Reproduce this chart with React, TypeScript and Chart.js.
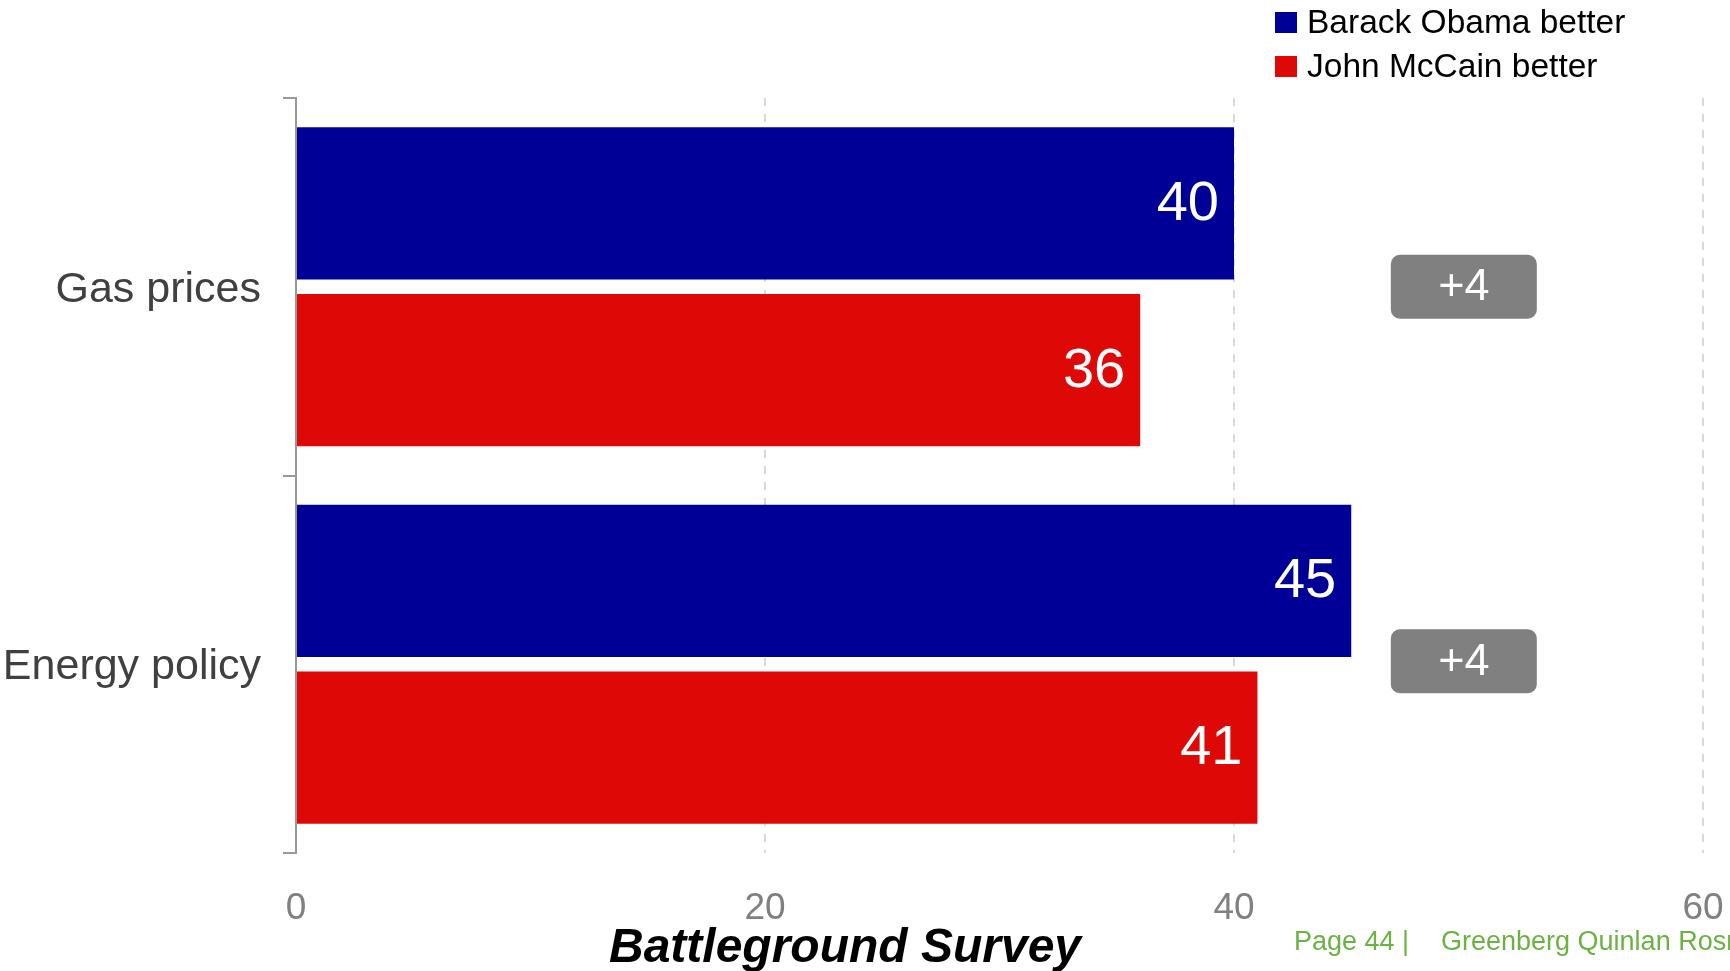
import React, { useEffect, useRef } from "react";
import { Chart, registerables } from "chart.js";

Chart.register(...registerables);

const categories = ["Gas prices", "Energy policy"];
const obamaValues = [40, 45];
const mccainValues = [36, 41];
const seriesNames = ["Barack Obama better", "John McCain better"];
const seriesColors = ["#000096", "#DE0806"];
const xTicks = [0, 20, 40, 60];
const badgeCenterValue = 49.8;

const FONT = "'Liberation Sans', Arial, Helvetica, sans-serif";

const overlayPlugin = {
  id: "overlay",
  afterDatasetsDraw(chart: any) {
    const ctx = chart.ctx;
    ctx.save();
    ctx.font = `56px ${FONT}`;
    ctx.fillStyle = "#ffffff";
    ctx.textAlign = "right";
    ctx.textBaseline = "middle";
    chart.data.datasets.forEach((ds: any, di: number) => {
      const meta = chart.getDatasetMeta(di);
      meta.data.forEach((bar: any, i: number) => {
        ctx.fillText(String(ds.data[i]), bar.x - 15, bar.y + 1);
      });
    });
    ctx.restore();
  },
  afterDraw(chart: any) {
    const ctx = chart.ctx;
    const xs = chart.scales.x;
    const ys = chart.scales.y;
    ctx.save();
    // difference badges
    categories.forEach((_, i) => {
      const diff = obamaValues[i] - mccainValues[i];
      const cx = xs.getPixelForValue(badgeCenterValue);
      const cy = ys.getPixelForValue(i) - 3 * i;
      const w = 146;
      const h = 64;
      ctx.fillStyle = "#808080";
      ctx.beginPath();
      (ctx as any).roundRect(cx - w / 2, cy - h / 2, w, h, 9);
      ctx.fill();
      ctx.fillStyle = "#ffffff";
      ctx.font = `45px ${FONT}`;
      ctx.textAlign = "center";
      ctx.textBaseline = "middle";
      ctx.fillText((diff > 0 ? "+" : "") + diff, cx, cy + 1);
    });
    // legend
    seriesNames.forEach((name, i) => {
      const cy = 22.5 + i * 44;
      ctx.fillStyle = seriesColors[i];
      ctx.fillRect(1275, cy - 10.5, 22, 21);
      ctx.fillStyle = "#000000";
      ctx.font = `33.5px ${FONT}`;
      ctx.textAlign = "left";
      ctx.textBaseline = "middle";
      ctx.fillText(name, 1307, cy + 1);
    });
    // footer
    ctx.fillStyle = "#000000";
    ctx.font = `italic bold 48px ${FONT}`;
    ctx.textAlign = "center";
    ctx.textBaseline = "alphabetic";
    ctx.fillText("Battleground Survey", 845, 962);
    ctx.fillStyle = "#6AB342";
    ctx.font = `27px ${FONT}`;
    ctx.textAlign = "left";
    ctx.fillText("Page 44 |", 1294, 950);
    ctx.fillText("Greenberg Quinlan Rosner", 1441, 950);
    ctx.restore();
  },
};

export default function App() {
  const canvasRef = useRef<HTMLCanvasElement | null>(null);

  useEffect(() => {
    if (!canvasRef.current) return;
    const chart = new Chart(canvasRef.current, {
      type: "bar",
      data: {
        labels: categories,
        datasets: [
          {
            label: seriesNames[0],
            data: obamaValues,
            backgroundColor: seriesColors[0],
            categoryPercentage: 0.883,
            barPercentage: 0.913,
          },
          {
            label: seriesNames[1],
            data: mccainValues,
            backgroundColor: seriesColors[1],
            categoryPercentage: 0.883,
            barPercentage: 0.913,
          },
        ],
      },
      options: {
        indexAxis: "y",
        responsive: false,
        animation: false,
        layout: { padding: { top: 98, right: 27, left: 0, bottom: 0 } },
        plugins: {
          legend: { display: false },
          tooltip: { enabled: false },
        },
        scales: {
          x: {
            type: "linear",
            min: xTicks[0],
            max: xTicks[xTicks.length - 1],
            afterBuildTicks: (scale: any) => {
              scale.ticks = xTicks.map((v) => ({ value: v }));
            },
            afterFit: (scale: any) => {
              scale.height = 118;
              scale.paddingLeft = 0;
              scale.paddingRight = 0;
            },
            grid: {
              color: "#d9d9d9",
              lineWidth: 2,
              drawTicks: false,
            },
            border: { display: false, dash: [8, 8] },
            ticks: {
              padding: 34,
              color: "#808080",
              font: { family: FONT, size: 37 },
            },
          },
          y: {
            afterFit: (scale: any) => {
              scale.width = 296;
              scale.paddingTop = 0;
              scale.paddingBottom = 0;
            },
            grid: {
              drawOnChartArea: false,
              drawTicks: true,
              tickLength: 13,
              color: "#999999",
              lineWidth: 2,
              offset: true,
            },
            border: { display: true, color: "#999999", width: 2 },
            ticks: {
              padding: 22,
              labelOffset: 3,
              color: "#404040",
              font: { family: FONT, size: 43 },
            },
          },
        },
      },
      plugins: [overlayPlugin],
    } as any);
    return () => chart.destroy();
  }, []);

  return (
    <canvas
      ref={canvasRef}
      width={1730}
      height={971}
      style={{ position: "fixed", left: 0, top: 0, display: "block" }}
    />
  );
}
